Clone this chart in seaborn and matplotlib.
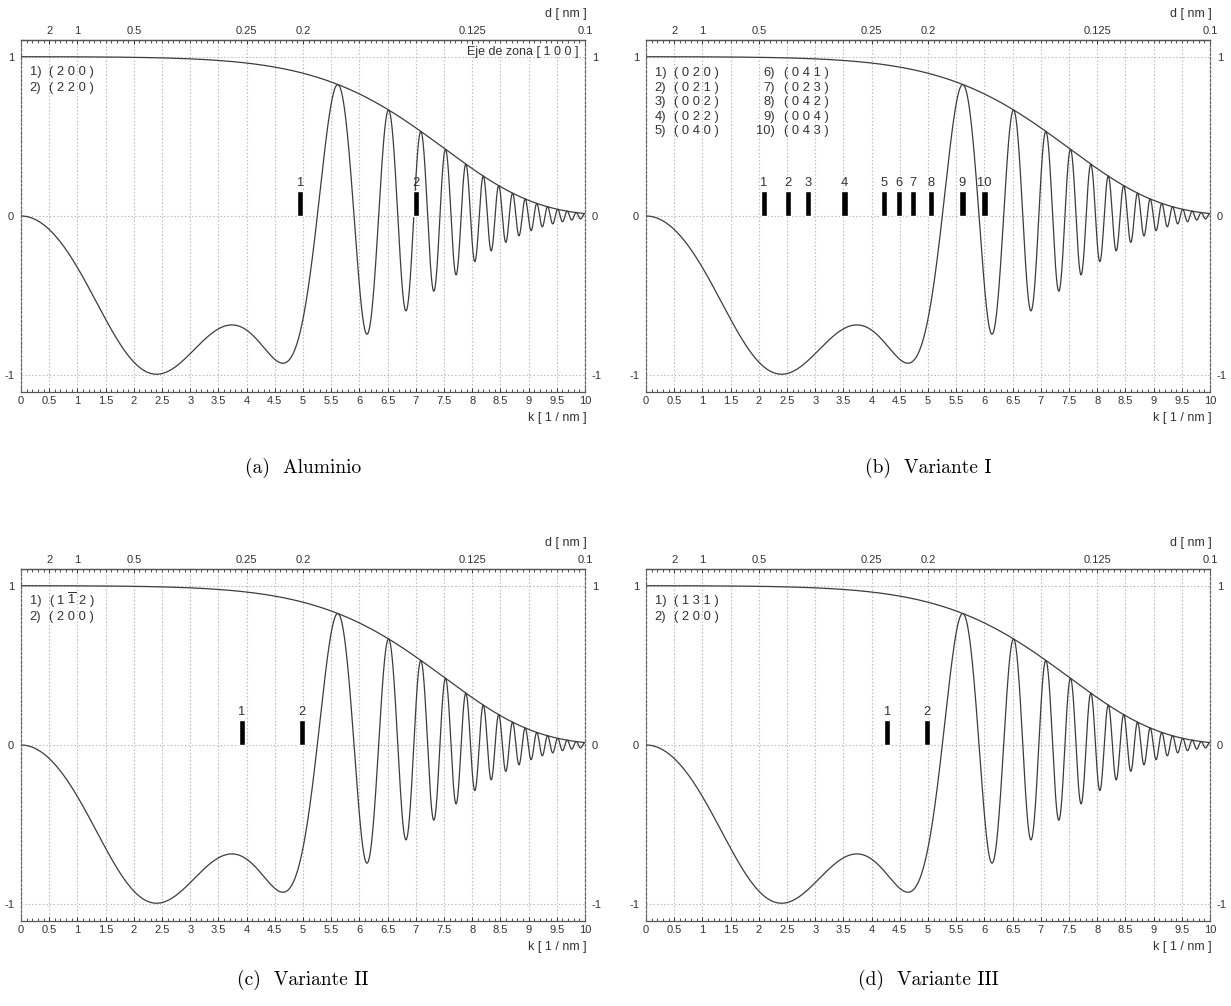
import numpy as np
import pandas as pd
import matplotlib
matplotlib.use("Agg")
import matplotlib.pyplot as plt
import seaborn as sns

# --- Microscope / CTF parameters (200 kV, Scherzer defocus) ---
wavelength_nm = 0.002508
cs_nm = 0.5e6
defocus_nm = -43.4
focal_spread_nm = 2.25
convergence_rad = 1.9e-4

# --- Top axis: real-space spacing d = 1/k ---
top_tick_k = [0.5, 1, 2, 4, 5, 8, 10]
top_tick_labels = ["2", "1", "0.5", "0.25", "0.2", "0.125", "0.1"]

# --- Bottom axis ---
bottom_tick_k = np.arange(0, 10.01, 0.5)
bottom_tick_labels = ["0", "0.5", "1", "1.5", "2", "2.5", "3", "3.5", "4", "4.5",
                      "5", "5.5", "6", "6.5", "7", "7.5", "8", "8.5", "9", "9.5", "10"]

panel_titles = ["(a)  Aluminio", "(b)  Variante I", "(c)  Variante II", "(d)  Variante III"]

# --- Reflections marked on each panel (k in 1/nm) ---
refl_k_a = [4.95, 7.00]
refl_names_a = ["( 2 0 0 )", "( 2 2 0 )"]

refl_k_b = [2.09, 2.52, 2.87, 3.52, 4.22, 4.49, 4.74, 5.05, 5.61, 6.00]
refl_names_b = ["( 0 2 0 )", "( 0 2 1 )", "( 0 0 2 )", "( 0 2 2 )", "( 0 4 0 )",
                "( 0 4 1 )", "( 0 2 3 )", "( 0 4 2 )", "( 0 0 4 )", "( 0 4 3 )"]

refl_k_c = [3.92, 4.98]
refl_names_c = [r"( 1 $\mathregular{\overline{1}}$ 2 )", "( 2 0 0 )"]

refl_k_d = [4.28, 4.98]
refl_names_d = ["( 1 3 1 )", "( 2 0 0 )"]

zone_axis_label = "Eje de zona [ 1 0 0 ]"

# ---------------------------------------------------------------
sns.set_style("ticks")
plt.rcParams["font.family"] = ["Liberation Sans", "DejaVu Sans"]
plt.rcParams["mathtext.default"] = "regular"

TXT = "#333333"
LINE = "#3c3c3c"
GRID = "#b4b4b4"

k = np.linspace(0.0, 10.0, 4001)
lam = wavelength_nm
chi = np.pi * lam * defocus_nm * k**2 + 0.5 * np.pi * cs_nm * lam**3 * k**4
env_t = np.exp(-0.5 * np.pi**2 * lam**2 * focal_spread_nm**2 * k**4)
env_s = np.exp(-(np.pi * convergence_rad / lam) ** 2
               * (cs_nm * lam**3 * k**3 + defocus_nm * lam * k) ** 2)
envelope = env_t * env_s
ctf = np.sin(chi) * envelope
curves = pd.DataFrame({"k": k, "ctf": ctf, "env": envelope})

fig = plt.figure(figsize=(12.31, 10.06), dpi=100)
W, H = 1231.0, 1006.0

panel_boxes = [(21, 40), (646, 40), (21, 569), (646, 569)]
ax_w, ax_h = 564, 352

panels = [
    (refl_k_a, refl_names_a),
    (refl_k_b, refl_names_b),
    (refl_k_c, refl_names_c),
    (refl_k_d, refl_names_d),
]

for idx, ((px, py), (rk, rn), title) in enumerate(zip(panel_boxes, panels, panel_titles)):
    ax = fig.add_axes([px / W, 1 - (py + ax_h) / H, ax_w / W, ax_h / H])
    ax.set_xlim(0, 10)
    ax.set_ylim(-1.105, 1.105)

    # grid
    for xv in bottom_tick_k:
        ax.axvline(xv, color=GRID, lw=0.8, ls=(0, (1.2, 2.0)), zorder=0)
    for yv in (-1, 0, 1):
        ax.axhline(yv, color=GRID, lw=0.8, ls=(0, (1.2, 2.0)), zorder=0)

    sns.lineplot(data=curves, x="k", y="env", ax=ax, color=LINE, lw=0.9,
                 estimator=None, sort=False, legend=False)
    sns.lineplot(data=curves, x="k", y="ctf", ax=ax, color=LINE, lw=0.9,
                 estimator=None, sort=False, legend=False)
    ax.set_xlabel("")
    ax.set_ylabel("")

    # reflection markers
    ax.bar(rk, [0.16] * len(rk), width=0.11, bottom=0, color="black", zorder=3)
    for i, kv in enumerate(rk):
        ax.text(kv, 0.172, str(i + 1), ha="center", va="bottom",
                fontsize=9.3, color=TXT)

    # reflection list
    if len(rn) > 2:
        for i, name in enumerate(rn):
            col, row = divmod(i, 5)
            y = 0.897 - row * 0.091
            xn, xt = (0.36, 0.50) if col == 0 else (2.29, 2.44)
            ax.text(xn, y, f"{i + 1})", ha="right", va="center", fontsize=9.3, color=TXT)
            ax.text(xt, y, name, ha="left", va="center", fontsize=9.3, color=TXT)
    else:
        for i, name in enumerate(rn):
            y = 0.905 - i * 0.1
            ax.text(0.36, y, f"{i + 1})", ha="right", va="center", fontsize=9.3, color=TXT)
            ax.text(0.50, y, name, ha="left", va="center", fontsize=9.3, color=TXT)

    if idx == 0:
        ax.text(9.88, 1.03, zone_axis_label, ha="right", va="center",
                fontsize=9, color=TXT)

    # bottom axis
    ax.set_xticks(bottom_tick_k, bottom_tick_labels)
    ax.set_xticks(np.arange(0, 10.01, 0.1), minor=True)
    ax.tick_params(axis="x", which="major", direction="in", length=3, pad=3,
                   labelsize=8, colors=TXT, width=0.7)
    ax.tick_params(axis="x", which="minor", direction="in", length=2,
                   colors=TXT, width=0.6)

    # y axis, labels on both sides
    ax.set_yticks([-1, 0, 1], ["-1", "0", "1"])
    ax.tick_params(axis="y", which="major", direction="in", length=0, pad=5,
                   labelsize=8, colors=TXT, left=True, right=True,
                   labelleft=True, labelright=True)

    for side in ("top", "bottom"):
        ax.spines[side].set_color("#555555")
        ax.spines[side].set_linewidth(0.9)
    for side in ("left", "right"):
        ax.spines[side].set_visible(True)
        ax.spines[side].set_color("#666666")
        ax.spines[side].set_linewidth(0.9)
        ax.spines[side].set_linestyle((0, (2, 1.5)))

    # top axis in d [nm]
    top = ax.secondary_xaxis("top")
    top.set_xticks(top_tick_k, top_tick_labels)
    top.set_xticks(np.arange(0, 10.01, 0.1), minor=True)
    top.tick_params(axis="x", which="major", direction="in", length=3, pad=3,
                    labelsize=8, colors=TXT, width=0.7)
    top.tick_params(axis="x", which="minor", direction="in", length=2,
                    colors=TXT, width=0.6)
    top.spines["top"].set_color("#555555")
    top.spines["top"].set_linewidth(0.9)

    ax.text(1.003, 1.075, "d [ nm ]", transform=ax.transAxes, ha="right",
            va="center", fontsize=9, color=TXT)
    ax.text(1.003, -0.074, "k [ 1 / nm ]", transform=ax.transAxes, ha="right",
            va="center", fontsize=9, color=TXT)

    # caption under the panel
    cy = 468 if py < 300 else 980
    fig.text((px + ax_w / 2) / W, 1 - cy / H, title, ha="center", va="center",
             fontsize=14, family="cmr10", color="black")

fig.savefig("out.png", dpi=100)
